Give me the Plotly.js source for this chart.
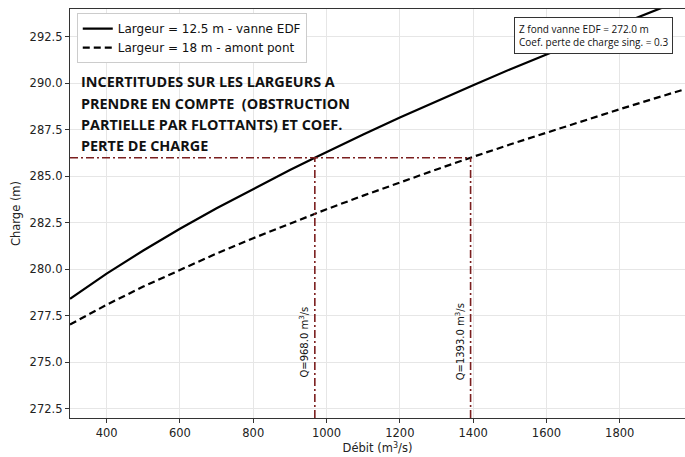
<!DOCTYPE html>
<html>
<head>
<meta charset="utf-8">
<script src="https://cdn.plot.ly/plotly-3.0.1.min.js"></script>
<style>html,body{margin:0;padding:0;background:#fff;}#chart{width:685px;height:457px;}</style>
</head>
<body>
<div id="chart"></div>
<script>
// Débit values (m3/s)
var debitA = [300, 400, 500, 600, 700, 800, 900, 968, 1000, 1100, 1200, 1300, 1400, 1500, 1600, 1700, 1800, 1900, 2000];
// Charge, Largeur = 12.5 m - vanne EDF
var chargeA = [278.41, 279.77, 281.01, 282.18, 283.28, 284.33, 285.34, 286.0, 286.31, 287.25, 288.16, 289.04, 289.90, 290.75, 291.57, 292.38, 293.17, 293.95, 294.71];
var debitB = [300, 400, 500, 600, 700, 800, 900, 1000, 1100, 1200, 1300, 1393, 1400, 1500, 1600, 1700, 1800, 1900, 2000];
// Charge, Largeur = 18 m - amont pont
var chargeB = [277.03, 278.09, 279.07, 279.98, 280.85, 281.67, 282.46, 283.23, 283.96, 284.68, 285.37, 286.0, 286.05, 286.71, 287.35, 287.99, 288.61, 289.22, 289.82];

var seriesNames = ['Largeur = 12.5 m - vanne EDF', 'Largeur = 18 m - amont pont'];
var chargeCible = 286.0;
var zFond = 272.0;
var debitsLus = [968.0, 1393.0];
var xTicks = [400, 600, 800, 1000, 1200, 1400, 1600, 1800];
var yTicks = [272.5, 275.0, 277.5, 280.0, 282.5, 285.0, 287.5, 290.0, 292.5];
var noteLines = ['INCERTITUDES SUR LES LARGEURS A', 'PRENDRE EN COMPTE  (OBSTRUCTION', 'PARTIELLE PAR FLOTTANTS) ET COEF.', 'PERTE DE CHARGE'];

var red = '#7b1f1f';
var traces = [
  {x: debitA, y: chargeA, type: 'scatter', mode: 'lines', name: seriesNames[0],
   line: {color: '#000', width: 2.2}},
  {x: debitB, y: chargeB, type: 'scatter', mode: 'lines', name: seriesNames[1],
   line: {color: '#000', width: 2.2, dash: '7px,4px'}},
  {x: [300, debitsLus[1]], y: [chargeCible, chargeCible], type: 'scatter', mode: 'lines', showlegend: false,
   line: {color: red, width: 1.6, dash: '8px,3px,2px,3px'}},
  {x: [debitsLus[0], debitsLus[0]], y: [zFond, chargeCible], type: 'scatter', mode: 'lines', showlegend: false,
   line: {color: red, width: 1.6, dash: '8px,3px,2px,3px'}},
  {x: [debitsLus[1], debitsLus[1]], y: [zFond, chargeCible], type: 'scatter', mode: 'lines', showlegend: false,
   line: {color: red, width: 1.6, dash: '8px,3px,2px,3px'}}
];

var font = 'DejaVu Sans, sans-serif';
var annotations = [
  {xref: 'paper', yref: 'paper', x: 0.98, y: 0.98, xanchor: 'right', yanchor: 'top',
   text: 'Z fond vanne EDF = ' + zFond.toFixed(1) + ' m<br>Coef. perte de charge sing. = 0.3',
   align: 'left', showarrow: false, bgcolor: '#fff', bordercolor: '#333', borderwidth: 1, borderpad: 4,
   font: {family: 'Open Sans, sans-serif', size: 10, color: '#111'}},
  {xref: 'x', yref: 'y', x: debitsLus[0], y: 276.1, xshift: -11, textangle: -90, showarrow: false,
   text: 'Q=' + debitsLus[0].toFixed(1) + ' m<sup>3</sup>/s', font: {size: 10, color: '#111'}},
  {xref: 'x', yref: 'y', x: debitsLus[1], y: 276.1, xshift: -11, textangle: -90, showarrow: false,
   text: 'Q=' + debitsLus[1].toFixed(1) + ' m<sup>3</sup>/s', font: {size: 10, color: '#111'}}
];
noteLines.forEach(function(t, i) {
  annotations.push({xref: 'paper', yref: 'paper', x: 0.014, y: 0.822 - i * 0.052, xanchor: 'left', yanchor: 'middle',
    text: t, align: 'left', showarrow: false,
    font: {family: 'Open Sans, sans-serif', size: 14.4, color: '#111', weight: 'bold'}});
});

var layout = {
  width: 685, height: 457,
  margin: {l: 70, r: 0, t: 9, b: 39},
  paper_bgcolor: '#fff', plot_bgcolor: '#fff',
  font: {family: font, size: 11, color: '#222'},
  showlegend: true,
  legend: {x: 0.011, y: 0.99, xanchor: 'left', yanchor: 'top', bgcolor: '#fff',
           bordercolor: '#ccc', borderwidth: 1, font: {size: 12, color: '#111'},
           tracegroupgap: 0, itemwidth: 30},
  xaxis: {range: [300, 1978], tickvals: xTicks, ticktext: xTicks.map(String),
          showgrid: true, gridcolor: '#e6e6e6', gridwidth: 1, zeroline: false,
          showline: true, linecolor: '#333', linewidth: 1.2, mirror: true,
          ticks: 'outside', ticklen: 4, tickcolor: '#333',
          tickfont: {size: 11.5, color: '#222'},
          title: {text: 'Débit (m<sup>3</sup>/s)', font: {size: 11.5, color: '#222'}, standoff: 5}},
  yaxis: {range: [272.0, 294.0], tickvals: yTicks, ticktext: yTicks.map(function(v){return v.toFixed(1);}),
          showgrid: true, gridcolor: '#e6e6e6', gridwidth: 1, zeroline: false,
          showline: true, linecolor: '#333', linewidth: 1.2, mirror: false,
          ticks: 'outside', ticklen: 4, tickcolor: '#333',
          tickfont: {size: 11.5, color: '#222'},
          title: {text: 'Charge (m)', font: {size: 11.5, color: '#222'}, standoff: 6}},
  annotations: annotations
};
Plotly.newPlot('chart', traces, layout, {staticPlot: true, displayModeBar: false});
</script>
</body>
</html>
